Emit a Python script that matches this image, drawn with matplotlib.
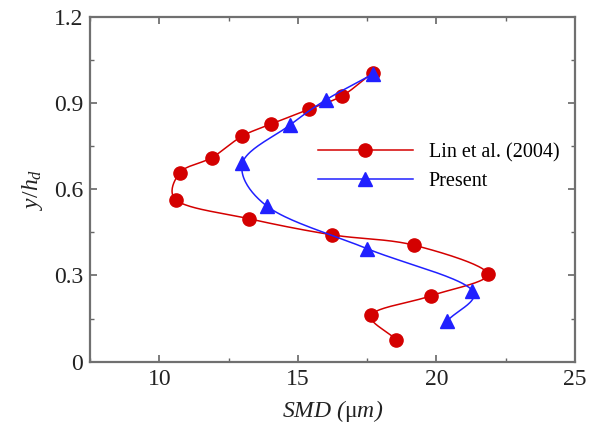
import numpy as np
import matplotlib
matplotlib.use('Agg')
import matplotlib.pyplot as plt
from matplotlib.ticker import MultipleLocator

plt.rcParams['font.family'] = 'Liberation Serif'
plt.rcParams['mathtext.fontset'] = 'custom'
plt.rcParams['mathtext.rm'] = 'Liberation Serif'
plt.rcParams['mathtext.it'] = 'Liberation Serif:italic'
plt.rcParams['mathtext.bf'] = 'Liberation Serif:bold'

# Lin et al. (2004)
lin_smd = [17.7, 16.6, 15.4, 14.05, 13.0, 11.9, 10.75, 10.6, 13.25, 16.25, 19.2, 21.85, 19.8, 17.65, 18.55]
lin_y = [1.005, 0.925, 0.878, 0.827, 0.785, 0.71, 0.658, 0.563, 0.497, 0.441, 0.405, 0.305, 0.229, 0.162, 0.077]

# present simulation
present_smd = [17.7, 16.0, 14.7, 13.0, 13.9, 17.5, 21.3, 20.4]
present_y = [1.0, 0.91, 0.822, 0.69, 0.54, 0.393, 0.247, 0.142]

x_ticks = [10, 15, 20, 25]
y_ticks = [0, 0.3, 0.6, 0.9, 1.2]


def smooth_curve(x, y, ax, n=40, alpha=0.2):
    # catmull-rom through the points, worked out in pixel space
    # so the curve shape does not depend on the axis units
    pts = ax.transData.transform(np.column_stack([x, y]))
    p = np.vstack([2 * pts[0] - pts[1], pts, 2 * pts[-1] - pts[-2]])
    out = []
    for i in range(1, len(p) - 2):
        p0, p1, p2, p3 = p[i - 1], p[i], p[i + 1], p[i + 2]
        t0 = 0.0
        t1 = t0 + np.linalg.norm(p1 - p0) ** alpha
        t2 = t1 + np.linalg.norm(p2 - p1) ** alpha
        t3 = t2 + np.linalg.norm(p3 - p2) ** alpha
        t = np.linspace(t1, t2, n)[:, None]
        a1 = (t1 - t) / (t1 - t0) * p0 + (t - t0) / (t1 - t0) * p1
        a2 = (t2 - t) / (t2 - t1) * p1 + (t - t1) / (t2 - t1) * p2
        a3 = (t3 - t) / (t3 - t2) * p2 + (t - t2) / (t3 - t2) * p3
        b1 = (t2 - t) / (t2 - t0) * a1 + (t - t0) / (t2 - t0) * a2
        b2 = (t3 - t) / (t3 - t1) * a2 + (t - t1) / (t3 - t1) * a3
        c = (t2 - t) / (t2 - t1) * b1 + (t - t1) / (t2 - t1) * b2
        out.append(c)
    out = np.vstack(out)
    data = ax.transData.inverted().transform(out)
    return data[:, 0], data[:, 1]


fig = plt.figure(figsize=(5.9, 4.29), dpi=100)
ax = fig.add_axes([0.1525, 0.157, 0.822, 0.804])
ax.set_xlim(7.5, 25)
ax.set_ylim(0, 1.2)

red = '#d40000'
blue = '#2020ff'

sx, sy = smooth_curve(lin_smd, lin_y, ax)
ax.plot(sx, sy, color=red, lw=1.1)
ax.plot(lin_smd, lin_y, 'o', color=red, ms=9.5, mec=red)
sx, sy = smooth_curve(present_smd, present_y, ax)
ax.plot(sx, sy, color=blue, lw=1.1)
ax.plot(present_smd, present_y, '^', color=blue, ms=9.5, mec=blue)

# legend proxies
ax.plot([], [], '-o', color=red, ms=9.5, lw=1.1, label='Lin et al. (2004)')
ax.plot([], [], '-^', color=blue, ms=9.5, lw=1.1, label='Present')
ax.legend(loc='center left', bbox_to_anchor=(0.47, 0.564), frameon=False,
          borderpad=0, borderaxespad=0, fontsize=14.5, handlelength=4.7,
          handletextpad=0.8, labelspacing=0.5)

ax.set_xticks(x_ticks)
ax.set_yticks(y_ticks)
ax.set_yticklabels(['0', '0.3', '0.6', '0.9', '1.2'])
ax.xaxis.set_minor_locator(MultipleLocator(2.5))
ax.yaxis.set_minor_locator(MultipleLocator(0.15))
ax.tick_params(which='both', direction='in', top=True, right=True,
               color='#666666', labelsize=17, labelcolor='#222222')
ax.tick_params(which='major', length=5, width=1.2, pad=5)
ax.tick_params(which='minor', length=3, width=1.0)
for s in ax.spines.values():
    s.set_color('#707070')
    s.set_linewidth(1.6)

ax.set_xlabel(r'SMD ($\mathrm{\mu}$m)', fontsize=17, fontstyle='italic',
              color='#222222', labelpad=6)
ax.set_ylabel(r'$y/h_d$', fontsize=17, color='#222222', labelpad=6)

fig.savefig('out.png', dpi=100)
